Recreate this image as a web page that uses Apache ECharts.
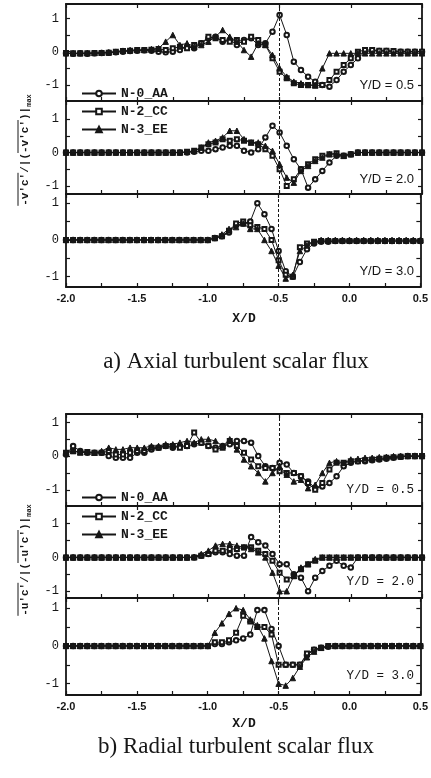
<!DOCTYPE html>
<html><head><meta charset="utf-8">
<script src="https://cdn.jsdelivr.net/npm/echarts@6/dist/echarts.min.js"></script>
<style>html,body{margin:0;padding:0;background:#fff}#c{width:431px;height:778px}</style>
</head><body><div id="c"></div>
<script>
const XS = [-2.0,-1.95,-1.9,-1.85,-1.8,-1.75,-1.7,-1.65,-1.6,-1.55,-1.5,-1.45,-1.4,-1.35,-1.3,-1.25,-1.2,-1.15,-1.1,-1.05,-1.0,-0.95,-0.9,-0.85,-0.8,-0.75,-0.7,-0.65,-0.6,-0.55,-0.5,-0.45,-0.4,-0.35,-0.3,-0.25,-0.2,-0.15,-0.1,-0.05,0.0,0.05,0.1,0.15,0.2,0.25,0.3,0.35,0.4,0.45,0.5];
const X_LABELS = [-2.0,-1.5,-1.0,-0.5,0.0,0.5];
const X_TICKS = [-2.0,-1.75,-1.5,-1.25,-1.0,-0.75,-0.5,-0.25,0.0,0.25,0.5];
const Y_LABELS = [-1,0,1];
const Y_TICKS = [-1,-0.5,0,0.5,1];
const NAMES = ['N-0_AA','N-2_CC','N-3_EE'];
const PANEL_LABELS = ['Y/D = 0.5','Y/D = 2.0','Y/D = 3.0'];
const CAPTIONS = ['a) Axial turbulent scalar flux','b) Radial turbulent scalar flux'];

// a) axial, Y/D = 0.5
const axial05_N0 = [-0.05,-0.06,-0.05,-0.06,-0.05,-0.04,-0.03,-0.02,0.0,0.02,0.03, 0.04,0.03,0.0,-0.02,0.0,0.05,0.15,0.1,0.25,0.4, 0.45,0.3,0.35,0.2,0.35,0.4,0.2,0.25,0.6,1.1, 0.5,-0.3,-0.55,-0.75,-0.9,-1.0,-1.05,-0.85,-0.6,-0.4, -0.2,0.0,0.03,0.02,0.02,0.0,0.0,0.0,0.0,0.0];
const axial05_N2 = [-0.04,-0.05,-0.05,-0.05,-0.04,-0.04,-0.03,0.0,0.02,0.03,0.05, 0.05,0.06,0.08,0.05,0.1,0.15,0.1,0.2,0.25,0.45, 0.4,0.35,0.3,0.35,0.3,0.45,0.35,0.2,-0.2,-0.6, -0.8,-0.95,-1.0,-1.0,-1.02,-1.0,-0.85,-0.6,-0.4,-0.2, 0.0,0.05,0.05,0.03,0.03,0.02,0.0,0.0,0.0,0.0];
const axial05_N3 = [-0.05,-0.05,-0.05,-0.04,-0.04,-0.03,-0.02,0.0,0.03,0.05,0.05, 0.05,0.08,0.1,0.3,0.5,0.2,0.25,0.15,0.2,0.3, 0.45,0.65,0.45,0.3,0.05,-0.15,0.25,0.2,-0.1,-0.5, -0.75,-0.9,-0.95,-1.0,-1.0,-0.5,-0.05,-0.05,-0.05,-0.05, -0.05,-0.05,-0.05,-0.05,-0.05,-0.05,-0.05,-0.05,-0.05,-0.05];
// a) axial, Y/D = 2.0
const axial20_N0 = [0,0,0,0,0,0,0,0,0,0,0, 0,0,0,0,0,0,0,0.02,0.05,0.05, 0.1,0.15,0.2,0.2,0.05,0.0,0.1,0.45,0.8,0.6, 0.2,-0.2,-0.5,-1.05,-0.8,-0.55,-0.3,-0.1,-0.1,-0.05, 0,0,0,0,0,0,0,0,0,0];
const axial20_N2 = [0,0,0,0,0,0,0,0,0,0,0, 0,0,0,0,0,0,0.02,0.05,0.15,0.25, 0.3,0.4,0.35,0.4,0.35,0.3,0.25,0.1,-0.1,-0.5, -1.0,-0.8,-0.5,-0.35,-0.2,-0.1,-0.05,-0.02,-0.1,-0.05, 0,0,0,0,0,0,0,0,0,0];
const axial20_N3 = [0,0,0,0,0,0,0,0,0,0,0, 0,0,0,0,0,0,0.02,0.05,0.15,0.3, 0.35,0.45,0.65,0.65,0.4,0.3,0.3,0.2,0.05,-0.35, -0.75,-0.9,-0.55,-0.4,-0.25,-0.15,-0.05,-0.05,-0.1,-0.05, 0,0,0,0,0,0,0,0,0,0];
// a) axial, Y/D = 3.0
const axial30_N0 = [0,0,0,0,0,0,0,0,0,0,0, 0,0,0,0,0,0,0,0,0,0.0, 0.05,0.1,0.2,0.4,0.45,0.5,1.0,0.7,0.3,-0.3, -0.85,-1.0,-0.6,-0.25,-0.1,-0.05,-0.05,-0.03,-0.03,-0.03, -0.03,-0.03,-0.03,-0.03,-0.03,-0.03,-0.03,-0.03,-0.03,-0.03];
const axial30_N2 = [0,0,0,0,0,0,0,0,0,0,0, 0,0,0,0,0,0,0,0,0,0.0, 0.05,0.1,0.25,0.45,0.5,0.4,0.35,0.3,0.0,-0.55, -0.95,-1.0,-0.2,-0.1,-0.05,-0.03,-0.03,-0.03,-0.03,-0.03, -0.03,-0.03,-0.03,-0.03,-0.03,-0.03,-0.03,-0.03,-0.03,-0.03];
const axial30_N3 = [0,0,0,0,0,0,0,0,0,0,0, 0,0,0,0,0,0,0,0,0,0.0, 0.05,0.15,0.3,0.35,0.45,0.3,0.3,0.0,-0.3,-0.7, -1.05,-0.95,-0.3,-0.15,-0.05,0,0,0,0,0, 0,0,0,0,0,0,0,0,0,0];
// b) radial, Y/D = 0.5
const radial05_N0 = [0.05,0.3,0.15,0.1,0.1,0.1,0.0,-0.05,-0.05,-0.05,0.1, 0.1,0.2,0.25,0.3,0.25,0.3,0.3,0.35,0.4,0.3, 0.25,0.3,0.35,0.45,0.45,0.4,0.0,-0.3,-0.35,-0.2, -0.25,-0.5,-0.6,-0.75,-0.95,-0.9,-0.8,-0.6,-0.3,-0.2, -0.15,-0.15,-0.12,-0.1,-0.08,-0.05,-0.02,0,0,0];
const radial05_N2 = [0.1,0.15,0.1,0.12,0.1,0.1,0.15,0.05,0.05,0.1,0.15, 0.15,0.25,0.25,0.3,0.3,0.25,0.3,0.7,0.4,0.3, 0.2,0.25,0.45,0.3,0.1,-0.1,-0.3,-0.35,-0.35,-0.45, -0.5,-0.5,-0.6,-0.8,-1.0,-0.8,-0.4,-0.2,-0.2,-0.15, -0.15,-0.12,-0.1,-0.08,-0.05,-0.03,-0.02,0,0,0];
const radial05_N3 = [0.1,0.15,0.12,0.12,0.1,0.15,0.25,0.2,0.2,0.25,0.25, 0.25,0.3,0.3,0.35,0.35,0.4,0.45,0.4,0.5,0.5, 0.45,0.3,0.5,0.2,-0.1,-0.3,-0.5,-0.75,-0.5,-0.3, -0.55,-0.75,-0.7,-0.95,-0.85,-0.5,-0.2,-0.15,-0.2,-0.1, -0.08,-0.05,-0.05,-0.03,-0.02,0,0,0,0,0];
// b) radial, Y/D = 2.0
const radial20_N0 = [0,0,0,0,0,0,0,0,0,0,0, 0,0,0,0,0,0,0,0.0,0.05,0.1, 0.15,0.15,0.1,0.05,0.05,0.6,0.45,0.35,0.1,-0.2, -0.2,-0.5,-0.6,-1.0,-0.6,-0.4,-0.25,-0.1,-0.25,-0.3, 0,0,0,0,0,0,0,0,0,0];
const radial20_N2 = [0,0,0,0,0,0,0,0,0,0,0, 0,0,0,0,0,0,0,0.0,0.05,0.1, 0.2,0.2,0.25,0.25,0.3,0.3,0.2,0.1,-0.1,-0.45, -0.65,-0.55,-0.35,-0.2,-0.1,0.0,0,0,0,0, 0,0,0,0,0,0,0,0,0,0];
const radial20_N3 = [0,0,0,0,0,0,0,0,0,0,0, 0,0,0,0,0,0,0,0.02,0.1,0.2, 0.35,0.4,0.4,0.35,0.3,0.25,0.15,0.0,-0.45,-1.0, -1.0,-0.55,-0.3,-0.2,-0.05,0,0,0,0,0, 0,0,0,0,0,0,0,0,0,0];
// b) radial, Y/D = 3.0
const radial30_N0 = [0,0,0,0,0,0,0,0,0,0,0, 0,0,0,0,0,0,0,0,0,0.0, 0.05,0.05,0.1,0.15,0.2,0.3,0.95,0.95,0.45,0.0, -0.5,-0.5,-0.5,-0.25,-0.1,-0.05,-0.02,0,0,0, 0,0,0,0,0,0,0,0,0,0];
const radial30_N2 = [0,0,0,0,0,0,0,0,0,0,0, 0,0,0,0,0,0,0,0,0,0.0, 0.1,0.1,0.15,0.35,0.8,0.65,0.5,0.5,0.3,-0.5, -0.5,-0.5,-0.5,-0.2,-0.1,-0.05,0,0,0,0, 0,0,0,0,0,0,0,0,0,0];
const radial30_N3 = [0,0,0,0,0,0,0,0,0,0,0, 0,0,0,0,0,0,0,0,0,0.0, 0.35,0.6,0.85,1.0,0.95,0.7,0.55,0.2,-0.4,-1.0, -1.05,-0.85,-0.55,-0.3,-0.15,-0.05,0,0,0,0, 0,0,0,0,0,0,0,0,0,0];

const DATA = [
  [axial05_N0, axial05_N2, axial05_N3],
  [axial20_N0, axial20_N2, axial20_N3],
  [axial30_N0, axial30_N2, axial30_N3],
  [radial05_N0, radial05_N2, radial05_N3],
  [radial20_N0, radial20_N2, radial20_N3],
  [radial30_N0, radial30_N2, radial30_N3]
];

// layout (pixels) and axis ranges per panel
const LAYOUT = [
  {top:4,   height:97, min:-1.48, max:1.43, labelY:85},
  {top:101, height:93, min:-1.24, max:1.54, labelY:179},
  {top:194, height:93, min:-1.28, max:1.25, labelY:271},
  {top:414, height:92, min:-1.48, max:1.25, labelY:490},
  {top:506, height:92, min:-1.20, max:1.52, labelY:582},
  {top:598, height:97, min:-1.30, max:1.27, labelY:676}
];
const LEFT = 66, WIDTH = 356;
const INK = '#161616';
const SYMBOLS = ['emptyCircle','emptyRect','triangle'];
const SYMSIZE = [4.5,4,5.5];

const grid = [], xAxis = [], yAxis = [], series = [];
function axLine() { return {show: true, onZero: false, lineStyle: {color: INK, width: 1.8}}; }
LAYOUT.forEach((L, p) => {
  grid.push({left: LEFT, width: WIDTH, top: L.top, height: L.height, show: false});
  const last = (p === 2 || p === 5);
  xAxis.push({
    type: 'value', gridIndex: p, min: -2, max: 0.5, position: 'bottom',
    axisLine: axLine(), splitLine: {show: false},
    axisTick: {show: true, inside: true, length: 4, customValues: X_TICKS, lineStyle: {color: INK, width: 1.2}},
    axisLabel: {show: last, customValues: X_LABELS, formatter: v => v.toFixed(1), margin: 6,
      fontFamily: 'Liberation Sans', fontWeight: 'bold', fontSize: 11, color: INK}
  });
  yAxis.push({
    type: 'value', gridIndex: p, min: L.min, max: L.max, position: 'left',
    axisLine: axLine(), splitLine: {show: false},
    axisTick: {show: true, inside: true, length: 4, customValues: Y_TICKS, lineStyle: {color: INK, width: 1.2}},
    axisLabel: {show: true, customValues: Y_LABELS, formatter: v => String(v), margin: 7,
      fontFamily: 'Liberation Mono', fontSize: 12, color: INK}
  });
});
LAYOUT.forEach((L, p) => {
  xAxis.push({
    type: 'value', gridIndex: p, min: -2, max: 0.5, position: 'top',
    axisLine: axLine(), splitLine: {show: false},
    axisTick: {show: true, inside: true, length: 4, customValues: X_LABELS, lineStyle: {color: INK, width: 1.2}},
    axisLabel: {show: false}
  });
  yAxis.push({
    type: 'value', gridIndex: p, min: L.min, max: L.max, position: 'right',
    axisLine: axLine(), splitLine: {show: false},
    axisTick: {show: true, inside: true, length: 4, customValues: Y_TICKS, lineStyle: {color: INK, width: 1.2}},
    axisLabel: {show: false}
  });
});

DATA.forEach((set, p) => {
  set.forEach((arr, k) => {
    const s = {
      type: 'line', name: NAMES[k], xAxisIndex: p, yAxisIndex: p,
      data: XS.map((x, i) => [x, arr[i]]),
      symbol: SYMBOLS[k], symbolSize: SYMSIZE[k], showSymbol: true,
      lineStyle: {color: INK, width: 1},
      itemStyle: {color: INK, borderColor: INK, borderWidth: 1},
      animation: false, silent: true, z: 3 + k
    };
    if (k === 0) {
      s.markLine = {
        silent: true, symbol: ['none','none'], label: {show: false},
        lineStyle: {color: INK, type: [3, 2], width: 1},
        data: [{xAxis: -0.5}], animation: false
      };
    }
    series.push(s);
  });
});

const legendBase = {
  orient: 'horizontal', padding: 0, itemWidth: 34, itemHeight: 7, selectedMode: false,
  textStyle: {fontFamily: 'Liberation Mono', fontWeight: 'bold', fontSize: 13, color: INK}
};
const LEGEND_POS = [
  {left: 81, top: 87}, {left: 81, top: 105}, {left: 81, top: 123},
  {left: 81, top: 491}, {left: 81, top: 510}, {left: 81, top: 528}
];
const legend = LEGEND_POS.map((pos, i) => Object.assign({}, legendBase, pos, {data: [NAMES[i % 3]]}));

const graphic = [];
LAYOUT.forEach((L, p) => {
  const fig = p < 3 ? 0 : 1;
  graphic.push({
    type: 'text', x: 414, y: L.labelY, silent: true, z: 10,
    style: {text: PANEL_LABELS[p % 3], fill: INK,
      font: fig === 0 ? '13px "Liberation Sans"' : '12.5px "Liberation Mono"',
      textAlign: 'right', textVerticalAlign: 'middle'}
  });
});
[319, 724].forEach(y => graphic.push({
  type: 'text', x: 244, y: y, silent: true,
  style: {text: 'X/D', fill: INK, font: 'bold 13px "Liberation Mono"', textAlign: 'center', textVerticalAlign: 'middle'}
}));
[[362, CAPTIONS[0]], [747, CAPTIONS[1]]].forEach(([y, t]) => graphic.push({
  type: 'text', x: 236, y: y, silent: true,
  style: {text: t, fill: INK, font: '23px "Liberation Serif"', textAlign: 'center', textVerticalAlign: 'middle'}
}));
// rotated y-axis titles
[[150, "-v'c'/|(-v'c')|"], [560, "-u'c'/|(-u'c')|"]].forEach(([cy, t]) => {
  graphic.push({
    type: 'text', x: 25, y: cy, rotation: Math.PI / 2, silent: true,
    style: {
      text: '{a|' + t + '}{b|max}', textAlign: 'center', textVerticalAlign: 'middle', fill: INK,
      rich: {
        a: {fontFamily: 'Liberation Mono', fontWeight: 'bold', fontSize: 11, lineHeight: 16, fill: INK, verticalAlign: 'middle'},
        b: {fontFamily: 'Liberation Mono', fontWeight: 'bold', fontSize: 7, lineHeight: 16, fill: INK, verticalAlign: 'bottom'}
      }
    }
  });
  const cw = 6.6, total = 15 * cw + 3 * 4.2, bottom = cy + total / 2;
  graphic.push({type: 'line', silent: true, shape: {x1: 18, y1: bottom, x2: 18, y2: bottom - 5 * cw}, style: {stroke: INK, lineWidth: 1}});
  graphic.push({type: 'line', silent: true, shape: {x1: 18, y1: bottom - 8 * cw, x2: 18, y2: bottom - 13 * cw}, style: {stroke: INK, lineWidth: 1}});
});

const chart = echarts.init(document.getElementById('c'), null, {renderer: 'canvas'});
chart.setOption({
  backgroundColor: '#ffffff',
  animation: false,
  grid, xAxis, yAxis, series, legend, graphic
});
</script>
</body></html>
